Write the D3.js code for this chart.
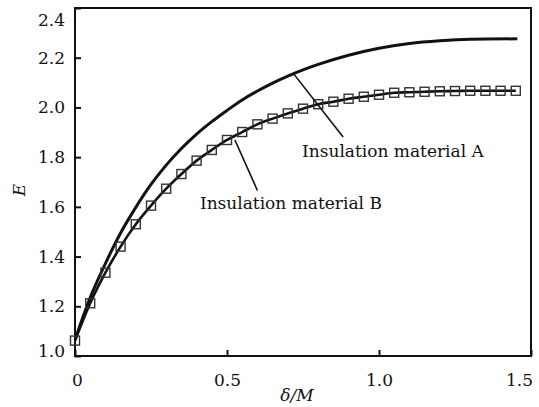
<!DOCTYPE html>
<html>
<head>
<meta charset="utf-8">
<script src="https://cdn.jsdelivr.net/npm/d3@7"></script>
<style>
  body { margin: 0; background: #fff; }
  text { font-family: "DejaVu Serif", serif; fill: #111; }
</style>
</head>
<body>
<div id="chart"></div>
<script>
// curve B (line with square markers)
var xB = [0, 0.05, 0.1, 0.15, 0.2, 0.25, 0.3, 0.35, 0.4, 0.45, 0.5, 0.55, 0.6, 0.65, 0.7,
          0.75, 0.8, 0.85, 0.9, 0.95, 1.0, 1.05, 1.1, 1.15, 1.2, 1.25, 1.3, 1.35, 1.4, 1.45];
var eB = [1.062, 1.212, 1.335, 1.44, 1.53, 1.605, 1.673, 1.732, 1.786, 1.829, 1.869, 1.901, 1.932, 1.955, 1.976,
          1.995, 2.013, 2.023, 2.035, 2.043, 2.051, 2.059, 2.061, 2.063, 2.065, 2.066, 2.067, 2.067, 2.067, 2.067];
// curve A (plain line)
var xA = [0, 0.05, 0.1, 0.15, 0.2, 0.25, 0.3, 0.35, 0.4, 0.45, 0.5, 0.55, 0.6, 0.65, 0.7, 0.75, 0.8,
          0.9, 1.0, 1.1, 1.2, 1.3, 1.455];
var eA = [1.065, 1.235, 1.372, 1.495, 1.598, 1.69, 1.768, 1.835, 1.893, 1.943, 1.988, 2.03, 2.066, 2.098, 2.126, 2.151, 2.173,
          2.21, 2.238, 2.257, 2.268, 2.274, 2.276];

var xTicks = [0, 0.5, 1.0, 1.5];
var xTickLabels = ["0", "0.5", "1.0", "1.5"];
var yTicks = [1.0, 1.2, 1.4, 1.6, 1.8, 2.0, 2.2, 2.4];
var yTickLabels = ["1.0", "1.2", "1.4", "1.6", "1.8", "2.0", "2.2", "2.4"];

var labelA = "Insulation material A",
    labelB = "Insulation material B";

var margin = {top: 8, right: 8, bottom: 51, left: 75},
    W = 539, H = 407,
    width = W - margin.left - margin.right,
    height = H - margin.top - margin.bottom;

var svg = d3.select("#chart").append("svg")
  .attr("width", W)
  .attr("height", H);

var g = svg.append("g")
  .attr("transform", "translate(" + margin.left + "," + margin.top + ")");

var x = d3.scaleLinear().domain([0, 1.5]).range([0, width]);
var y = d3.scaleLinear().domain([1.0, 2.4]).range([height, 0]);

// frame
g.append("rect")
  .attr("width", width).attr("height", height)
  .attr("fill", "none").attr("stroke", "#111").attr("stroke-width", 2);

// x axis (ticks inward)
var xAxis = d3.axisBottom(x).tickValues(xTicks).tickSizeInner(-6).tickSizeOuter(0)
  .tickFormat(function(d, i) { return xTickLabels[i]; }).tickPadding(18);
var gx = g.append("g").attr("transform", "translate(0," + height + ")").call(xAxis);
gx.select(".domain").remove();
gx.selectAll("line").attr("stroke", "#111").attr("stroke-width", 2);
gx.selectAll("text").style("font-size", "17px").attr("fill", "#111")
  .attr("dx", function(d) { return d === 0 ? 2 : (d === 1.5 ? -12 : 0); });

var yAxis = d3.axisLeft(y).tickValues(yTicks).tickSizeInner(-6).tickSizeOuter(0)
  .tickFormat(function(d, i) { return yTickLabels[i]; }).tickPadding(10);
var gy = g.append("g").call(yAxis);
gy.select(".domain").remove();
gy.selectAll("line").attr("stroke", "#111").attr("stroke-width", 2);
gy.selectAll("text").style("font-size", "17px").attr("fill", "#111")
  .attr("dy", function(d) { return d === 2.4 ? "1.0em" : (d === 1.0 ? "0.05em" : "0.32em"); });

// axis titles
svg.append("text")
  .attr("x", margin.left + x(0.75) - 6).attr("y", 401)
  .attr("text-anchor", "middle")
  .style("font-size", "17px").style("font-style", "italic")
  .text("\u03b4/M");

svg.append("text")
  .attr("transform", "translate(25,190) rotate(-90)")
  .attr("text-anchor", "middle")
  .style("font-size", "17px").style("font-style", "italic")
  .text("E");

var line = d3.line()
  .x(function(d) { return x(d[0]); })
  .y(function(d) { return y(d[1]); })
  .curve(d3.curveMonotoneX);

var dataA = xA.map(function(v, i) { return [v, eA[i]]; });
var dataB = xB.map(function(v, i) { return [v, eB[i]]; });

g.append("path").datum(dataA)
  .attr("d", line).attr("fill", "none")
  .attr("stroke", "#111").attr("stroke-width", 3);

g.append("path").datum(dataB)
  .attr("d", line).attr("fill", "none")
  .attr("stroke", "#111").attr("stroke-width", 2.6);

g.selectAll("rect.mk").data(dataB).enter().append("rect")
  .attr("class", "mk")
  .attr("x", function(d) { return x(d[0]) - 4.5; })
  .attr("y", function(d) { return y(d[1]) - 4.5; })
  .attr("width", 9).attr("height", 9)
  .attr("fill", "none").attr("stroke", "#333").attr("stroke-width", 1.4);

// annotations
g.append("line")
  .attr("x1", x(0.720)).attr("y1", y(2.134))
  .attr("x2", x(0.882)).attr("y2", y(1.881))
  .attr("stroke", "#111").attr("stroke-width", 1.6);
g.append("text")
  .attr("x", x(0.747)).attr("y", y(1.80))
  .style("font-size", "17px")
  .text(labelA);

g.append("line")
  .attr("x1", x(0.526)).attr("y1", y(1.869))
  .attr("x2", x(0.600)).attr("y2", y(1.666))
  .attr("stroke", "#111").attr("stroke-width", 1.6);
g.append("text")
  .attr("x", x(0.411)).attr("y", y(1.591))
  .style("font-size", "17px")
  .text(labelB);
</script>
</body>
</html>
